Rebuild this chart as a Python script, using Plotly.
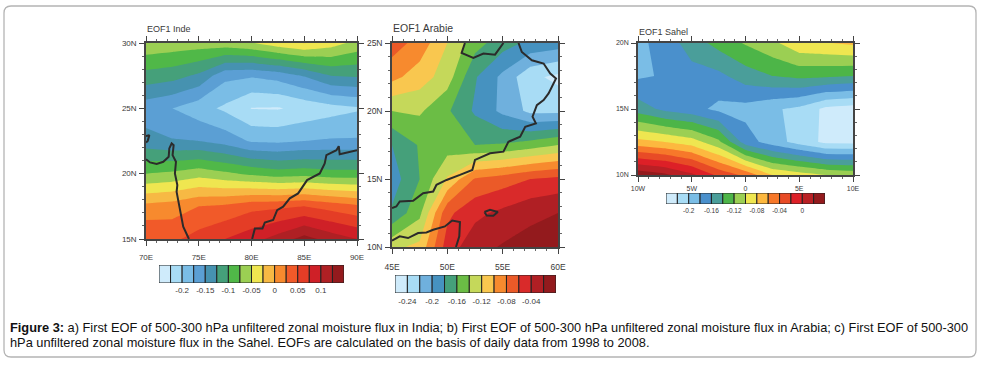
import plotly.graph_objects as go

W, H = 981, 366

# ---------- Panel a: India ----------
inde_lon = [70, 72.5, 75, 77.5, 80, 82.5, 85, 87.5, 90]
inde_lat = [30, 27.5, 25, 22.5, 20, 17.5, 15]
inde_z = [
    [-.056, -.060, -.062, -.060, -.052, -.035, -.024, -.038, -.058],
    [-.109, -.115, -.130, -.168, -.172, -.165, -.148, -.125, -.122],
    [-.165, -.175, -.190, -.205, -.226, -.227, -.218, -.210, -.203],
    [-.140, -.148, -.150, -.160, -.178, -.180, -.175, -.172, -.172],
    [-.075, -.070, -.060, -.070, -.080, -.088, -.085, -.090, -.090],
    [.007, .012, .025, .030, .042, .045, .050, .040, .030],
    [.050, .045, .060, .075, .090, .110, .135, .115, .100],
]
inde_levels = [-.225, -.2, -.175, -.15, -.125, -.1, -.075, -.05, -.025, 0, .025, .05, .075, .1, .125]
inde_colors = ["#CFEBFB", "#A8DCF5", "#7ABDE6", "#5B9FD4", "#4692B0", "#45A07A", "#50B848", "#9BCF53",
               "#EFE650", "#F7B944", "#F78A2E", "#F15A29", "#E43D26", "#CF2027", "#AF2024", "#931A1D"]
inde_cb_ticks = [-.2, -.15, -.1, -.05, 0, .05, .1]
inde_cb_text = ["-0.2", "-0.15", "-0.1", "-0.05", "0", "0.05", "0.1"]
inde_coasts = [
    ([70, 70.16, 70.32, 70], [22.38, 22.51, 22.95, 22.87]),
    ([70, 70.38, 71.01, 71.64, 72.15, 72.21, 72.43, 72.62, 72.52, 72.84, 72.74, 72.97, 72.9, 73.22, 73.53, 74.07],
     [21.11, 20.86, 20.75, 20.91, 21.29, 21.93, 22.31, 22.18, 21.42, 20.91, 20.02, 19.12, 18.61, 17.21, 15.94, 15]),
    ([80.06, 80.32, 81.04, 81.26, 82.05, 82.43, 83, 83.63, 84.42, 85.27, 86.47, 86.94, 87.1, 88.05, 88.27, 88.36, 90],
     [15, 15.81, 15.81, 16.25, 16.45, 17.21, 17.47, 18.11, 18.49, 19.51, 20.02, 20.78, 21.42, 21.8, 22.1, 21.49, 21.8]),
]

# ---------- Panel b: Arabia ----------
arab_lon = [45, 47.5, 50, 52.5, 55, 57.5, 60]
arab_lat = [25, 22.5, 20, 17.5, 15, 12.5, 10]
arab_z = [
    [-.070, -.088, -.120, -.152, -.171, -.185, -.190],
    [-.094, -.110, -.130, -.178, -.205, -.235, -.245],
    [-.140, -.137, -.157, -.183, -.205, -.225, -.225],
    [-.180, -.158, -.150, -.160, -.158, -.150, -.140],
    [-.190, -.160, -.118, -.078, -.070, -.060, -.055],
    [-.177, -.145, -.065, -.045, -.035, -.025, -.020],
    [-.125, -.115, -.050, -.028, -.018, -.012, -.010],
]
arab_levels = [-.24, -.22, -.2, -.18, -.16, -.14, -.12, -.1, -.08, -.06, -.04, -.02]
arab_colors = ["#CFEBFB", "#A8DCF5", "#6FB0DD", "#4692C0", "#45A07A", "#6BBD45", "#C5D85A",
               "#F9C74F", "#F78A2E", "#EB5A28", "#D92A2A", "#B01F24", "#931A1D"]
arab_cb_ticks = [-.24, -.2, -.16, -.12, -.08, -.04]
arab_cb_text = ["-0.24", "-0.2", "-0.16", "-0.12", "-0.08", "-0.04"]
arab_coasts = [
    ([51.59, 51.29, 52.35, 53.26, 54.31, 55.07], [25, 24.27, 23.9, 24.22, 24.14, 25]),
    ([56.43, 56.73, 57.64, 58.7, 59.3, 59.82, 59.15, 58.7, 58.09, 57.7, 58, 57.04, 56.58, 55.52, 55.07, 53.86, 52.5,
      52.26, 51.14, 49.93, 49.02, 48.72, 47.81, 46.91, 45.7, 45.39, 45],
     [25, 24.34, 23.73, 23.49, 22.75, 22.39, 21.29, 20.8, 20.43, 19.58, 19.09, 18.84, 18.11, 17.74, 17.01, 16.89, 16.4,
      15.67, 15.3, 14.93, 14.57, 14.08, 13.96, 13.4, 13.35, 12.98, 12.86]),
    ([45, 45.7, 46.45, 47.36, 48.11, 48.72, 49.78, 50.44, 51.14, 51.08, 50.78],
     [10.46, 10.78, 10.66, 11.03, 11.07, 11.27, 11.51, 11.95, 11.83, 10.78, 10]),
    ([53.35, 53.86, 54.56, 54.16, 53.56, 53.35], [12.57, 12.74, 12.57, 12.3, 12.32, 12.57]),
]

# ---------- Panel c: Sahel ----------
sahel_lon = [-10, -7.5, -5, -2.5, 0, 2.5, 5, 7.5, 10]
sahel_lat = [20, 17.5, 15, 12.5, 10]
sahel_z = [
    [-.185, -.172, -.150, -.133, -.118, -.105, -.085, -.081, -.076],
    [-.183, -.178, -.168, -.165, -.150, -.140, -.135, -.137, -.140],
    [-.150, -.165, -.173, -.185, -.187, -.197, -.205, -.225, -.230],
    [-.073, -.080, -.090, -.115, -.170, -.190, -.208, -.225, -.225],
    [.035, .025, .005, -.025, -.045, -.080, -.090, -.100, -.105],
]
sahel_levels = [-.22, -.2, -.18, -.16, -.14, -.12, -.1, -.08, -.06, -.04, -.02, 0, .02]
sahel_colors = ["#CFEBFB", "#A8DCF5", "#7ABDE6", "#4A90CC", "#4A9E9A", "#4DB548", "#9BCF53",
                "#EFE650", "#FDB83F", "#F7782A", "#E84B26", "#DD2027", "#B92025", "#931A1D"]
sahel_cb_ticks = [-.2, -.16, -.12, -.08, -.04, 0]
sahel_cb_text = ["-0.2", "-0.16", "-0.12", "-0.08", "-0.04", "0"]

# ---------- Axis labels and text ----------
panels = [
    dict(title="EOF1 Inde", lon=inde_lon, lat=inde_lat, z=inde_z, levels=inde_levels, colors=inde_colors,
         coasts=inde_coasts, cb_ticks=inde_cb_ticks, cb_text=inde_cb_text,
         xt=[70, 75, 80, 85, 90], xl=["70E", "75E", "80E", "85E", "90E"],
         yt=[15, 20, 25, 30], yl=["15N", "20N", "25N", "30N"],
         box=(146, 357, 43, 239), cb=(159, 344, 265, 283), fs=8, cfs=8, tfs=9, ty=29, xso=5, yso=1, cso=1),
    dict(title="EOF1 Arabie", lon=arab_lon, lat=arab_lat, z=arab_z, levels=arab_levels, colors=arab_colors,
         coasts=arab_coasts, cb_ticks=arab_cb_ticks, cb_text=arab_cb_text,
         xt=[45, 50, 55, 60], xl=["45E", "50E", "55E", "60E"],
         yt=[10, 15, 20, 25], yl=["10N", "15N", "20N", "25N"],
         box=(392, 558, 43, 247), cb=(395, 556, 275, 293), fs=8.5, cfs=8, tfs=10.5, ty=28, xso=6, yso=1, cso=2),
    dict(title="EOF1 Sahel", lon=sahel_lon, lat=sahel_lat, z=sahel_z, levels=sahel_levels, colors=sahel_colors,
         coasts=[], cb_ticks=sahel_cb_ticks, cb_text=sahel_cb_text,
         xt=[-10, -5, 0, 5, 10], xl=["10W", "5W", "0", "5E", "10E"],
         yt=[10, 15, 20], yl=["10N", "15N", "20N"],
         box=(638, 853, 43, 175), cb=(666, 825, 193, 204), fs=7, cfs=6.5, tfs=9, ty=32, xso=1, yso=1, cso=1),
]

caption_1 = ("<b>Figure 3:</b> a) First EOF of 500-300 hPa unfiltered zonal moisture flux in India; "
             "b) First EOF of 500-300 hPa unfiltered zonal moisture flux in Arabia; c) First EOF of 500-300")
caption_2 = ("hPa unfiltered zonal moisture flux in the Sahel. EOFs are calculated on the basis of "
             "daily data from 1998 to 2008.")

TICK_FONT = "Liberation Sans, Arial, sans-serif"
INK = "#3a3a3a"


def px(x):
    return x / W


def py(y):
    return 1 - y / H


fig = go.Figure()
layout = dict(
    width=W, height=H, margin=dict(l=0, r=0, t=0, b=0, autoexpand=False), autosize=False,
    paper_bgcolor="white", plot_bgcolor="white", showlegend=False,
    annotations=[], shapes=[],
)

for i, p in enumerate(panels):
    n = 2 * i + 1
    xa, ya = f"x{n}", f"y{n}"
    xa_key, ya_key = f"xaxis{n}", f"yaxis{n}"
    lv = p["levels"]
    cols = p["colors"]
    scale = [[k / (len(cols) - 1), c] for k, c in enumerate(cols)]
    fig.add_trace(go.Contour(
        x=p["lon"], y=p["lat"], z=p["z"], xaxis=xa, yaxis=ya,
        autocontour=False,
        contours=dict(start=lv[0], end=lv[-1], size=lv[1] - lv[0], coloring="fill", showlines=False),
        line=dict(width=0, smoothing=0), colorscale=scale, showscale=False, hoverinfo="skip",
    ))
    for lon, lat in p["coasts"]:
        fig.add_trace(go.Scatter(x=lon, y=lat, xaxis=xa, yaxis=ya, mode="lines",
                                 line=dict(color="#2b2b2b", width=2), hoverinfo="skip"))
    x0, x1, y0, y1 = p["box"]
    common = dict(showgrid=False, zeroline=False, showline=True, linecolor="#444444", linewidth=1.6,
                  mirror="allticks", ticks="outside", ticklen=5, tickwidth=1, tickcolor="#444444",
                  tickfont=dict(family=TICK_FONT, size=p["fs"], color=INK),
                  minor=dict(dtick=1, ticks="outside", ticklen=2.5, tickwidth=0.7, tickcolor="#666666"))
    layout[xa_key] = dict(common, domain=[px(x0), px(x1)], anchor=ya, range=[min(p["lon"]), max(p["lon"])],
                          tickmode="array", tickvals=p["xt"], ticktext=p["xl"], ticklabelstandoff=p["xso"])
    layout[ya_key] = dict(common, domain=[py(y1), py(y0)], anchor=xa, range=[min(p["lat"]), max(p["lat"])],
                          tickmode="array", tickvals=p["yt"], ticktext=p["yl"], ticklabelstandoff=p["yso"])
    layout["annotations"].append(dict(
        text=p["title"], xref="paper", yref="paper", x=px(x0), y=py(p["ty"]),
        xanchor="left", yanchor="middle", showarrow=False, xshift=-1,
        font=dict(family=TICK_FONT, size=p["tfs"], color=INK),
    ))

    # Colour key: one bar per contour interval, on its own axes
    step = lv[1] - lv[0]
    edges = [lv[0] - step] + list(lv) + [lv[-1] + step]
    mids = [(edges[k] + edges[k + 1]) / 2 for k in range(len(edges) - 1)]
    m = 2 * i + 7
    fig.add_trace(go.Bar(
        x=mids, y=[1] * len(mids), width=step, xaxis=f"x{m}", yaxis=f"y{m}",
        marker=dict(color=cols, line=dict(color="#222222", width=1)), hoverinfo="skip",
    ))
    cx0, cx1, cy0, cy1 = p["cb"]
    layout[f"xaxis{m}"] = dict(
        domain=[px(cx0), px(cx1)], anchor=f"y{m}", range=[edges[0], edges[-1]],
        showgrid=False, zeroline=False, showline=False, ticks="", ticklen=0,
        tickmode="array", tickvals=p["cb_ticks"], ticktext=p["cb_text"], ticklabelstandoff=p["cso"],
        tickfont=dict(family=TICK_FONT, size=p["cfs"], color=INK),
    )
    layout[f"yaxis{m}"] = dict(domain=[py(cy1), py(cy0)], anchor=f"x{m}", range=[0, 1], visible=False)

# Caption
layout["annotations"] += [
    dict(text=caption_1, xref="paper", yref="paper", x=px(8), y=py(327), xanchor="left", yanchor="middle",
         showarrow=False, font=dict(family=TICK_FONT, size=12.8, color="#111111")),
    dict(text=caption_2, xref="paper", yref="paper", x=px(8), y=py(342), xanchor="left", yanchor="middle",
         showarrow=False, font=dict(family=TICK_FONT, size=12.8, color="#111111")),
]

# Card outline with rounded corners
l, r, t, b, c = px(4), px(976), py(6), py(357), 7
cx, cy = c / W, c / H
card = (f"M {l + cx} {t} L {r - cx} {t} Q {r} {t} {r} {t - cy} L {r} {b + cy} Q {r} {b} {r - cx} {b} "
        f"L {l + cx} {b} Q {l} {b} {l} {b + cy} L {l} {t - cy} Q {l} {t} {l + cx} {t} Z")
layout["shapes"].append(dict(type="path", xref="paper", yref="paper", path=card,
                             line=dict(color="#b4b4b4", width=1.3), layer="below"))

fig.update_layout(**layout)
fig.write_html("out.html", config={"displayModeBar": False},
               post_script="document.body.style.margin='0';document.body.style.overflow='hidden';")
